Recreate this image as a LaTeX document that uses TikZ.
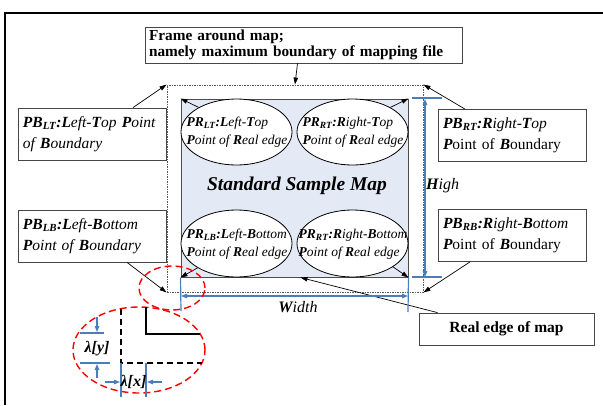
\documentclass[tikz,border=0pt]{standalone}
\usepackage{fontspec}
\setmainfont{Liberation Serif}
\usetikzlibrary{shapes.geometric,arrows.meta}
\definecolor{dimblue}{RGB}{74,126,187}
\definecolor{mapfill}{RGB}{228,234,245}
\definecolor{boxgray}{RGB}{70,70,70}
\newcommand{\kb}[1]{{\bfseries\itshape #1}}
\begin{document}
\begin{tikzpicture}[x=1pt,y=-1pt,
  txtbox/.style={draw=boxgray,line width=0.8pt,fill=white,inner xsep=5pt,inner ysep=0pt,align=left},
  pbbox/.style={txtbox,text width=138pt,minimum height=52pt,font=\fontsize{15.5}{21}\selectfont\itshape},
  prell/.style={ellipse,draw=black,line width=0.8pt,fill=white,inner sep=0pt,minimum width=111pt},
  prtext/.style={align=left,inner sep=0pt,font=\fontsize{13.5}{17.5}\selectfont\itshape},
  arr/.style={black,line width=0.7pt,-{Triangle[length=7pt,width=4.5pt]}},
  dimline/.style={dimblue,line width=1.2pt},
  dimarr/.style={dimblue,line width=1.2pt,-{Triangle[length=6pt,width=4.5pt]}},
  redell/.style={ellipse,draw=red,line width=1.4pt,dash pattern=on 7pt off 4pt,inner sep=0pt},
  dimlabel/.style={inner sep=0pt,font=\fontsize{16}{16}\selectfont\itshape}
]
\useasboundingbox (0,0) rectangle (603,405);
% outer frame
\draw[line width=2.2pt] (603,13) -- (5,13) -- (5,405);

% boundary frame and real edge
\node[draw=black!65,dash pattern=on 1.5pt off 1pt,line width=0.9pt,minimum width=256pt,minimum height=207pt,inner sep=0pt] (bound) at (295,188.5) {};
\node[draw=black!70,fill=mapfill,line width=1pt,minimum width=227pt,minimum height=178pt,inner sep=0pt] (real) at (294.5,188) {};
\node[inner sep=0pt,font=\fontsize{19.5}{19.5}\selectfont\bfseries\itshape] (ssm) at (297,186) {Standard Sample Map};

% ellipses
\node[prell,minimum height=66pt] (eLT) at (236.5,132) {};
\node[prell,minimum height=66pt] (eRT) at (352.5,132) {};
\node[prell,minimum height=67pt] (eLB) at (236.5,243.5) {};
\node[prell,minimum height=67pt] (eRB) at (352.5,243.5) {};
\node[prtext] (tLT) at (237,132) {\kb{PR\textsubscript{LT}:L}eft-\kb{T}op\\\kb{P}oint of \kb{R}eal edge};
\node[prtext] (tRT) at (353,132) {\kb{PR\textsubscript{RT}:R}ight-\kb{T}op\\\kb{P}oint of \kb{R}eal edge};
\node[prtext] (tLB) at (237,244) {\kb{PR\textsubscript{LB}:L}eft-\kb{B}ottom\\\kb{P}oint of \kb{R}eal edge};
\node[prtext] (tRB) at (353,244) {\kb{PR\textsubscript{RT}:R}ight-\kb{B}ottom\\\kb{P}oint of \kb{R}eal edge};
\draw[arr] (eLT.147) -- (real.north west);
\draw[arr] (eRT.33) -- (real.north east);
\draw[arr] (eLB.212) -- (real.south west);
\draw[arr] (eRB.330) -- (real.south east);

% title box
\node[txtbox,inner xsep=4pt,text width=309pt,minimum height=36pt,font=\fontsize{15.3}{15.5}\selectfont\bfseries] (title) at (303.5,45) {Frame around map;\\namely maximum boundary of mapping file};
\draw[arr] ([xshift=-6pt]title.south) -- (bound.north);

% PB boxes
\node[pbbox] (pbLT) at (92,134) {\kb{PB\textsubscript{LT}:L}eft-\kb{T}op \kb{P}oint\\of \kb{B}oundary};
\node[pbbox] (pbRT) at (512,135.5) {\kb{PB\textsubscript{RT}:R}ight-\kb{T}op\\\kb{P}{\upshape oint of }\kb{B}{\upshape oundary}};
\node[pbbox] (pbLB) at (92,236) {\kb{PB\textsubscript{LB}:L}eft-\kb{B}ottom\\\kb{P}oint of \kb{B}oundary};
\node[pbbox] (pbRB) at (512,235.5) {\kb{PB\textsubscript{RB}:R}ight-\kb{B}ottom\\\kb{P}{\upshape oint of }\kb{B}{\upshape oundary}};
\draw[arr] ([xshift=41pt]pbLT.north) -- (bound.north west);
\draw[arr] ([xshift=-47pt]pbRT.north) -- (bound.north east);
\draw[arr] ([xshift=35pt]pbLB.south) -- (bound.south west);
\draw[arr] ([xshift=-42pt]pbRB.south) -- (bound.south east);

% real edge box
\node[txtbox,minimum width=175pt,minimum height=32pt,align=center,font=\fontsize{15.5}{15.5}\selectfont\bfseries] (rebox) at (506.5,329) {Real edge of map};
\draw[arr] ([xshift=-69pt]rebox.north) -- ([xshift=6pt]real.south);

% Width dimension
\coordinate (wl) at (181,311);
\coordinate (wr) at (408,312);
\coordinate (wal) at (181,296);
\coordinate (war) at (408,296);
\coordinate (wmid) at (294.5,296);
\draw[dimline] (real.south west) -- (wl);
\draw[dimline] (real.south east) -- (wr);
\draw[dimarr] (wmid) -- (wal);
\draw[dimarr] (wmid) -- (war);
\node[dimlabel,anchor=center] (wlab) at (298,307) {\kb{W}idth};

% High dimension
\coordinate (ht1) at (412,98);
\coordinate (ht2) at (442,98);
\coordinate (hb1) at (412,277);
\coordinate (hb2) at (442,277);
\coordinate (hat) at (425,99);
\coordinate (hab) at (425,277);
\coordinate (hmid) at (425,188);
\draw[dimline] (ht1) -- (ht2);
\draw[dimline] (hb1) -- (hb2);
\draw[dimarr] (hmid) -- (hat);
\draw[dimarr] (hmid) -- (hab);
\node[dimlabel,anchor=west] (hlab) at (426,186) {\kb{H}igh};

% red ellipses
\node[redell,minimum width=66pt,minimum height=44pt] (small) at (172,288) {};
\node[redell,minimum width=132pt,minimum height=86pt] (big) at (139,350) {};

% magnified corner
\draw[black,line width=1.3pt] (146,307) -- (146,334) -- (200,334);
\draw[black,line width=1.3pt,dash pattern=on 6pt off 4pt] (121,309) -- (121,363) -- (202,363);
% lambda y
\coordinate (ly1a) at (80,333);
\coordinate (ly1b) at (104,333);
\coordinate (ly2a) at (80,363);
\coordinate (ly2b) at (110,363);
\coordinate (lyt) at (97,317);
\coordinate (lyb) at (97,378);
\draw[dimline] (ly1a) -- (ly1b);
\draw[dimline] (ly2a) -- (ly2b);
\draw[dimarr] (lyt) -- (97,332);
\draw[dimarr] (lyb) -- (97,364);
\node[dimlabel,font=\fontsize{16}{16}\selectfont\bfseries\itshape] (lyl) at (97,349) {λ[y]};
% lambda x
\coordinate (lx1a) at (121,363);
\coordinate (lx1b) at (121,397);
\coordinate (lx2a) at (146,363);
\coordinate (lx2b) at (146,397);
\draw[dimline] (lx1a) -- (lx1b);
\draw[dimline] (lx2a) -- (lx2b);
\draw[dimarr] (105,382) -- (120,382);
\draw[dimarr] (162,382) -- (147,382);
\node[dimlabel,font=\fontsize{16}{16}\selectfont\bfseries\itshape] (lxl) at (133.5,382) {λ[x]};
\end{tikzpicture}
\end{document}
